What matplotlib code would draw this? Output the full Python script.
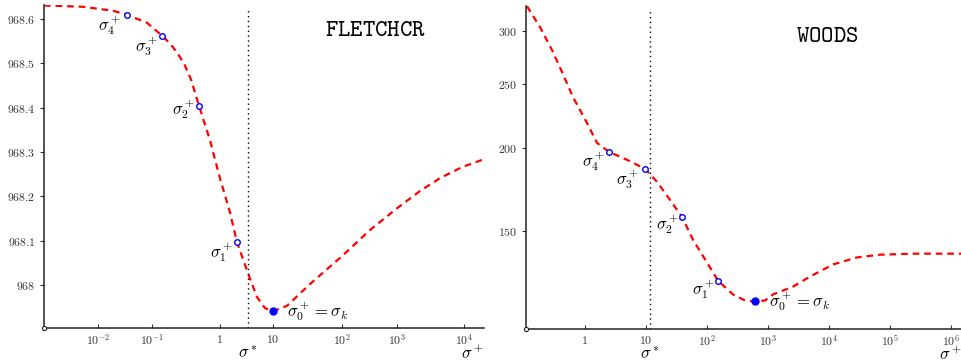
import numpy as np
import matplotlib
matplotlib.use('Agg')
import matplotlib.pyplot as plt
from matplotlib.ticker import FixedLocator, NullLocator, FuncFormatter

plt.rcParams['mathtext.fontset'] = 'cm'
plt.rcParams['font.family'] = 'serif'

# ---- FLETCHCR (left) : log10(sigma) and f values
fl_log_sigma = [-3.0, -2.278, -1.722, -1.463, -1.093, -0.853, -0.735, -0.632, -0.529, -0.426,
                -0.309, -0.147, 0.0, 0.189, 0.321, 0.528, 0.698, 0.849, 1.0, 1.203, 1.536,
                2.0, 2.509, 3.0, 3.343, 3.642, 3.970, 4.299]
fl_f = [968.631, 968.628, 968.619, 968.610, 968.592, 968.563, 968.545, 968.525, 968.500, 968.464,
        968.405, 968.327, 968.241, 968.164, 968.097, 968.027, 967.973, 967.948, 967.941, 967.953,
        968.002, 968.065, 968.124, 968.173, 968.212, 968.241, 968.266, 968.284]
fl_mark_log_sigma = [0.321, -0.309, -0.853, -1.463]   # sigma_1 .. sigma_4
fl_mark_f = [968.097, 968.405, 968.563, 968.610]
fl_min = (1.0, 967.941)
fl_star = 0.528
fl_xticks = [-2, -1, 0, 1, 2, 3, 4]
fl_yticks = [968.0, 968.1, 968.2, 968.3, 968.4, 968.5, 968.6]
fl_ylim = (967.903, 968.632)
fl_xlim = (-3.0, 4.3)
# uneven decade spacing of the original x axis
fl_decades = [-3, -2, -1, 0, 1, 2, 3, 4, 5]
fl_decade_pos = [0, 54, 108, 176, 229, 298, 353, 420, 487]

# ---- WOODS (right)
wd_log_sigma = [-0.951, -0.738, -0.541, -0.377, -0.197, 0.033, 0.197, 0.393, 0.689, 0.984,
                1.18, 1.393, 1.59, 1.77, 2.0, 2.18, 2.426, 2.623, 2.787, 2.951, 3.082, 3.41,
                3.689, 4.066, 4.459, 4.836, 5.377, 6.164]
wd_f = [327.3, 304.4, 281.1, 260.4, 238.7, 218.1, 203.5, 197.3, 191.9, 186.0,
        177.8, 167.0, 157.4, 145.4, 134.3, 126.1, 120.2, 117.7, 117.3, 117.7, 120.2, 123.5,
        127.9, 133.4, 136.7, 138.0, 138.5, 138.5]
wd_mark_log_sigma = [2.18, 1.59, 0.984, 0.393]
wd_mark_f = [126.1, 157.4, 186.0, 197.3]
wd_min = (2.787, 117.3)
wd_star = 1.066
wd_xticks = [0, 1, 2, 3, 4, 5, 6]
wd_yticks = [150, 200, 250, 300]
wd_ylim = (106.6, 327.5)
wd_xlim = (-0.967, 6.164)

mark_names = [r'$\sigma_1^+$', r'$\sigma_2^+$', r'$\sigma_3^+$', r'$\sigma_4^+$']


def dec_fmt(v, _):
    e = int(round(np.log10(v)))
    if e == 0:
        return '$1$'
    if e == 1:
        return '$10$'
    return '$10^{%d}$' % e


def style_axes(ax, xticks):
    for s in ['top', 'right']:
        ax.spines[s].set_visible(False)
    for s in ['left', 'bottom']:
        ax.spines[s].set_color('#222222')
        ax.spines[s].set_linewidth(1.1)
    ax.tick_params(axis='x', direction='in', length=3, width=0.8, pad=3.5,
                   labelsize=8.5, colors='#333333')
    ax.tick_params(axis='y', direction='out', length=3, width=0.8, pad=3,
                   labelsize=8.5, colors='#333333')
    ax.xaxis.set_minor_locator(NullLocator())
    ax.yaxis.set_minor_locator(NullLocator())
    ax.xaxis.set_major_locator(FixedLocator([10.0 ** k for k in xticks]))
    ax.xaxis.set_major_formatter(FuncFormatter(dec_fmt))


def draw_panel(ax, log_s, f, mk_s, mk_f, mn, star, offsets, title, title_xy):
    ax.plot(10.0 ** np.array(log_s), f, color='red', lw=1.6, ls=(0, (3, 2.2)))
    ax.axvline(10.0 ** star, ymax=0.985, color='black', lw=1.0, ls=(0, (1, 2.5)))
    ax.plot(10.0 ** np.array(mk_s), mk_f, 'o', ms=4, mfc='white', mec='blue', mew=1.0)
    ax.plot(10.0 ** mn[0], mn[1], 'o', ms=5, color='blue')
    for name, s, v, off in zip(mark_names, mk_s, mk_f, offsets):
        ax.annotate(name, (10.0 ** s, v), xytext=off, textcoords='offset points',
                    ha='right', va='top', fontsize=12)
    ax.annotate(r'$\sigma_0^+ = \sigma_k$', (10.0 ** mn[0], mn[1]), xytext=(10, 0),
                textcoords='offset points', ha='left', va='center', fontsize=12)
    ax.annotate(r'$\sigma^*$', (10.0 ** star, 0), xycoords=('data', 'axes fraction'),
                xytext=(0, -18), textcoords='offset points', ha='center', va='center',
                fontsize=12)
    ax.text(0.975, -0.08, r'$\sigma^+$', transform=ax.transAxes, ha='center',
            va='center', fontsize=12)
    ax.text(title_xy[0], title_xy[1], r'$\mathtt{%s}$' % title, transform=ax.transAxes,
            ha='left', va='center', fontsize=17)
    # small open circle at the axes origin
    ax.plot(ax.get_xlim()[0], ax.get_ylim()[0], 'o', ms=3, mfc='white', mec='#222222',
            mew=0.8, clip_on=False, zorder=5)


fig = plt.figure(figsize=(9.61, 3.62), dpi=100)
W, H = 961.0, 362.0
ax1 = fig.add_axes([44 / W, (H - 328) / H, 440 / W, 323 / H])
ax2 = fig.add_axes([526 / W, (H - 329) / H, 435 / W, 323 / H])


def fl_fwd(x):
    return np.interp(np.log10(np.maximum(x, 1e-300)), fl_decades, fl_decade_pos)


def fl_inv(p):
    return 10.0 ** np.interp(p, fl_decade_pos, fl_decades)


ax1.set_xscale('function', functions=(fl_fwd, fl_inv))
ax1.set_xlim(10.0 ** fl_xlim[0], 10.0 ** fl_xlim[1])
ax1.set_ylim(*fl_ylim)
style_axes(ax1, fl_xticks)
ax1.set_yticks(fl_yticks)
ax1.yaxis.set_major_formatter(FuncFormatter(lambda v, _: '$%g$' % round(v, 1)))
draw_panel(ax1, fl_log_sigma, fl_f, fl_mark_log_sigma, fl_mark_f, fl_min, fl_star,
           [(-3, 1), (-3, 6), (-3, 1), (-4, 1)], 'FLETCHCR', (0.639, 0.923))

ax2.set_xscale('log')
ax2.set_yscale('log')
ax2.set_xlim(10.0 ** wd_xlim[0], 10.0 ** wd_xlim[1])
ax2.set_ylim(*wd_ylim)
style_axes(ax2, wd_xticks)
ax2.yaxis.set_major_locator(FixedLocator(wd_yticks))
ax2.yaxis.set_minor_locator(NullLocator())
ax2.yaxis.set_major_formatter(FuncFormatter(lambda v, _: '$%d$' % v))
draw_panel(ax2, wd_log_sigma, wd_f, wd_mark_log_sigma, wd_mark_f, wd_min, wd_star,
           [(-2, 2), (-2, 3), (-4, 1), (-3, 2)], 'WOODS', (0.621, 0.910))

fig.savefig('out.png', dpi=100)
